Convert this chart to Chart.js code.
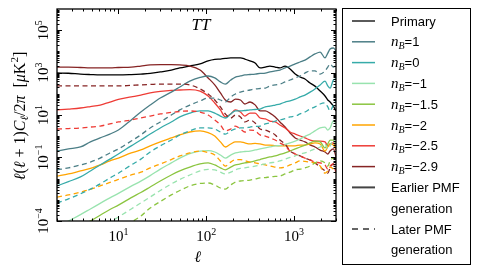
<!DOCTYPE html>
<html>
<head>
<meta charset="utf-8">
<script src="https://cdn.jsdelivr.net/npm/chart.js@4.4.0/dist/chart.umd.min.js"></script>
<style>
  html, body { margin: 0; padding: 0; background: #fff; overflow: hidden; }
</style>
</head>
<body>
<canvas id="chart" width="479" height="273"></canvas>
<script>
// multipole grid shared by every curve
const ells = [2, 2.7, 3.7, 4.8, 6.2, 8, 10, 14, 18, 23, 30, 40, 50, 65, 85, 105, 125, 145, 165, 190,
  215, 245, 275, 315, 360, 410, 470, 530, 610, 690, 790, 900, 1030, 1170, 1330, 1520, 1730, 1980, 2250, 2420,
  2570, 2800, 3000];

// primary CMB TT, muK^2
const primary = [955, 930, 850, 810, 780, 780, 780, 810, 850, 910, 1070, 1320, 1660, 2040, 2570, 3550, 4170, 4370, 4680, 4900,
  4900, 4900, 4370, 3550, 2820, 1660, 1820, 2040, 1820, 1660, 2040, 1480, 850, 620, 500, 320, 230, 135, 79, 51,
  41, 26, 15.5];

// earlier PMF generation (solid)
const nb1 = [0.2, 0.25, 0.31, 0.54, 0.83, 1.26, 1.95, 5.8, 13.8, 29.5, 63, 120, 209, 398, 589, 692, 562, 363, 288, 447,
  617, 692, 776, 813, 851, 912, 955, 1070, 1200, 1320, 1660, 2040, 2570, 3160, 3890, 5500, 7590, 9330, 4900, 8320,
  12900, 14500, 10500];
const nb0 = [0.0045, 0.0072, 0.012, 0.023, 0.044, 0.083, 0.145, 0.35, 0.66, 1.26, 2.45, 4.7, 8.1, 12.3, 15.5, 15.5, 12.3, 8.9, 7.2, 11.2,
  15.5, 15.5, 16.3, 17.4, 18.2, 19.1, 24, 26, 29.5, 33, 41, 46, 56, 71, 87, 120, 170, 263, 398, 234,
  186, 447, 501];
const nbm1 = [5.2e-5, 1e-4, 2.0e-4, 3.7e-4, 6.8e-4, 1.24e-3, 2.0e-3, 4.4e-3, 7.6e-3, 0.0138, 0.028, 0.055, 0.093, 0.152, 0.2, 0.21, 0.18, 0.129, 0.093, 0.129,
  0.162, 0.18, 0.19, 0.2, 0.224, 0.25, 0.28, 0.31, 0.35, 0.36, 0.41, 0.48, 0.59, 0.74, 0.98, 1.26, 1.78, 2.45, 2.7, 1.95,
  2.45, 5.2, 4.2];
const nbm15 = [1.26e-5, 2.6e-5, 5.4e-5, 1e-4, 1.86e-4, 3.5e-4, 5.6e-4, 1.26e-3, 2.2e-3, 4.0e-3, 7.7e-3, 0.0148, 0.023, 0.035, 0.049, 0.055, 0.044, 0.032, 0.026, 0.035,
  0.044, 0.049, 0.055, 0.06, 0.068, 0.079, 0.093, 0.105, 0.117, 0.138, 0.162, 0.2, 0.25, 0.31, 0.38, 0.48, 0.59, 0.54, 0.28, 0.43,
  0.66, 0.66, 0.31];
const nbm2 = [0.0132, 0.0166, 0.023, 0.030, 0.044, 0.068, 0.093, 0.162, 0.224, 0.35, 0.54, 0.83, 1.15, 1.58, 1.78, 1.48, 1.02, 0.54, 0.31, 0.43,
  0.54, 0.54, 0.48, 0.43, 0.46, 0.43, 0.38, 0.38, 0.36, 0.35, 0.35, 0.35, 0.35, 0.38, 0.38, 0.43, 0.48, 0.43, 0.2, 0.31,
  0.43, 0.38, 0.25];
const nbm25 = [17.4, 19.1, 21.4, 25, 29.5, 41, 54, 71, 87, 110, 129, 145, 151, 159, 135, 79, 37, 17.4, 8.1, 11.2,
  17.4, 13.8, 8.9, 12.3, 12.3, 7.2, 6.5, 5.2, 4.7, 3.4, 2.45, 1.58, 1.26, 1.02, 0.83, 0.66, 0.59, 0.59, 0.54, 0.35,
  0.43, 0.48, 0.22];
const nbm29 = [1820, 1820, 1740, 1660, 1660, 1660, 1740, 1820, 2040, 2290, 2400, 2400, 2290, 2040, 1320, 560, 263, 110, 51, 41,
  56, 51, 33, 41, 30, 15.5, 15.5, 12.3, 8.1, 4.7, 2.7, 1.41, 0.83, 0.66, 0.54, 0.39, 0.31, 0.22, 0.18, 0.145,
  0.2, 0.25, 0.105];

// later PMF generation (dashed)
const nb1Late = [0.026, 0.032, 0.044, 0.06, 0.093, 0.162, 0.25, 0.59, 1.15, 2.45, 4.7, 10, 17.4, 29.5, 46, 63, 63, 51, 41, 71,
  98, 120, 135, 151, 170, 178, 186, 234, 263, 288, 363, 447, 562, 692, 955, 1200, 1200, 851, 1200, 1820,
  2570, 1820, 2290];
const nb0Late = [0.0007, 0.0011, 0.0019, 0.0032, 0.0056, 0.0107, 0.018, 0.044, 0.083, 0.18, 0.35, 0.66, 1.15, 1.78, 2.45, 2.45, 2.19, 1.58, 1.26, 1.78,
  2.19, 2.45, 2.45, 2.7, 2.9, 3.0, 3.8, 4.2, 5.2, 5.8, 6.8, 8.1, 8.9, 11.2, 13.8, 19.1, 24, 33, 37, 24,
  15.5, 29.5, 46];
const nbm1Late = [2.5e-6, 4.8e-6, 1.15e-5, 2.2e-5, 4.5e-5, 8.9e-5, 1.55e-4, 3.7e-4, 7.1e-4, 1.35e-3, 2.75e-3, 5.6e-3, 9.1e-3, 0.0148, 0.023, 0.027, 0.026, 0.020, 0.0166, 0.020,
  0.026, 0.030, 0.032, 0.035, 0.039, 0.044, 0.049, 0.055, 0.06, 0.068, 0.083, 0.1, 0.117, 0.145, 0.162, 0.2, 0.25, 0.31, 0.43, 0.25,
  0.35, 0.66, 0.43];
const nbm15Late = [3.2e-7, 7.6e-7, 1.8e-6, 3.8e-6, 8.3e-6, 1.8e-5, 3.4e-5, 8.9e-5, 1.7e-4, 4.1e-4, 8.3e-4, 1.7e-3, 2.75e-3, 4.5e-3, 5.9e-3, 6.2e-3, 5.0e-3, 3.6e-3, 3.2e-3, 5.0e-3,
  6.9e-3, 7.7e-3, 8.1e-3, 8.5e-3, 9.5e-3, 0.0107, 0.0112, 0.012, 0.0126, 0.0132, 0.0166, 0.020, 0.026, 0.028, 0.032, 0.039, 0.055, 0.068, 0.055, 0.039,
  0.068, 0.093, 0.055];
const nbm2Late = [0.00135, 0.0017, 0.0023, 0.0031, 0.0045, 0.0066, 0.0091, 0.0148, 0.020, 0.032, 0.049, 0.079, 0.117, 0.162, 0.2, 0.17, 0.129, 0.068, 0.039, 0.06,
  0.079, 0.079, 0.071, 0.06, 0.055, 0.049, 0.044, 0.039, 0.035, 0.032, 0.035, 0.044, 0.055, 0.068, 0.065, 0.06, 0.055, 0.039, 0.018, 0.023,
  0.035, 0.028, 0.018];
const nbm25Late = [2.19, 2.3, 2.45, 2.7, 3.0, 3.8, 4.7, 5.8, 7.2, 8.9, 11.2, 13.2, 14.7, 15.5, 13.8, 10, 5.8, 3.4, 1.78, 2.19,
  3.0, 2.19, 1.58, 1.95, 1.78, 1.15, 1.02, 0.83, 0.66, 0.48, 0.35, 0.2, 0.145, 0.117, 0.093, 0.076, 0.06, 0.055, 0.044, 0.028,
  0.039, 0.049, 0.018];
const nbm29Late = [234, 234, 234, 234, 234, 234, 234, 250, 263, 275, 288, 288, 288, 263, 170, 98, 51, 24, 11.2, 7.2,
  10, 8.1, 4.7, 5.8, 4.2, 2.19, 1.95, 1.58, 1.15, 0.66, 0.43, 0.2, 0.145, 0.117, 0.093, 0.076, 0.055, 0.035, 0.023, 0.018,
  0.032, 0.049, 0.023];

const nBLabels = ['1', '0', '\u22121', '\u22121.5', '\u22122', '\u22122.5', '\u22122.9'];
const nBColors = ['#4b7e86', '#36aba9', '#98e3ae', '#8bc540', '#ffa400', '#ee3b35', '#862424'];
const earlySeries = [nb1, nb0, nbm1, nbm15, nbm2, nbm25, nbm29];
const lateSeries = [nb1Late, nb0Late, nbm1Late, nbm15Late, nbm2Late, nbm25Late, nbm29Late];

// axis ticks
const xTickExps = [1, 2, 3];
const yTickExps = [-4, -1, 1, 3, 5];

const toPoints = arr => ells.map((l, i) => ({ x: l, y: arr[i] }));

const datasets = [];
nBLabels.forEach((lab, i) => {
  datasets.push({ label: 'nB=' + lab + ' later', data: toPoints(lateSeries[i]), borderColor: nBColors[i], borderDash: [5, 3.5] });
});
nBLabels.forEach((lab, i) => {
  datasets.push({ label: 'nB=' + lab, data: toPoints(earlySeries[i]), borderColor: nBColors[i] });
});
datasets.push({ label: 'Primary', data: toPoints(primary), borderColor: '#000' });

const SERIF = '"Liberation Serif", "DejaVu Serif", serif';
const SANS = '"Liberation Sans", Arial, sans-serif';

function drawRuns(ctx, runs, x, y) {
  runs.forEach(r => {
    ctx.font = r[1];
    ctx.fillText(r[0], x, y + (r[2] || 0));
    x += ctx.measureText(r[0]).width;
  });
  return x;
}
function runsWidth(ctx, runs) {
  let w = 0;
  runs.forEach(r => { ctx.font = r[1]; w += ctx.measureText(r[0]).width; });
  return w;
}
function powRuns(e) {
  return [['10', '15px ' + SERIF], [String(e).replace('-', '\u2212'), '10px ' + SERIF, -6]];
}

const axesPlugin = {
  id: 'axesPlugin',
  afterDatasetsDraw(chart) {
    const ctx = chart.ctx;
    const a = chart.chartArea;
    const xs = chart.scales.x, ys = chart.scales.y;
    ctx.save();
    ctx.strokeStyle = '#000';
    ctx.fillStyle = '#000';
    ctx.lineWidth = 1;

    const line = (x1, y1, x2, y2) => { ctx.beginPath(); ctx.moveTo(x1, y1); ctx.lineTo(x2, y2); ctx.stroke(); };

    // x ticks, top and bottom, pointing inwards
    for (let e = 0; e <= 3; e++) {
      for (let k = 1; k <= 9; k++) {
        const v = k * Math.pow(10, e);
        if (v < xs.min || v > xs.max) continue;
        const px = Math.round(xs.getPixelForValue(v)) + 0.5;
        const len = (k === 1 && xTickExps.includes(e)) ? 5 : 2.5;
        line(px, a.bottom, px, a.bottom - len);
        line(px, a.top, px, a.top + len);
      }
    }
    // y ticks, left and right
    for (let e = -4; e <= 5; e++) {
      for (let k = 1; k <= 9; k++) {
        const v = k * Math.pow(10, e);
        if (v < ys.min || v > ys.max) continue;
        const py = Math.round(ys.getPixelForValue(v)) + 0.5;
        const len = (k === 1 && yTickExps.includes(e)) ? 5 : 2.5;
        line(a.left, py, a.left + len, py);
        line(a.right, py, a.right - len, py);
      }
    }
    // frame
    ctx.lineWidth = 1.3;
    ctx.strokeRect(a.left, a.top, a.right - a.left, a.bottom - a.top);

    // x tick labels
    ctx.textBaseline = 'alphabetic';
    xTickExps.forEach(e => {
      const runs = powRuns(e);
      const w = runsWidth(ctx, runs);
      drawRuns(ctx, runs, xs.getPixelForValue(Math.pow(10, e)) - w / 2, 241);
    });
    // y tick labels, rotated
    yTickExps.forEach(e => {
      const runs = powRuns(e);
      const w = runsWidth(ctx, runs);
      ctx.save();
      ctx.translate(48, ys.getPixelForValue(Math.pow(10, e)));
      ctx.rotate(-Math.PI / 2);
      drawRuns(ctx, runs, -w / 2, 0);
      ctx.restore();
    });

    // axis titles
    const it = 'italic 16px ' + SERIF, up = '16px ' + SERIF;
    const ell = [['\u2113', it]];
    const xw = runsWidth(ctx, ell);
    drawRuns(ctx, ell, (a.left + a.right) / 2 - xw / 2 + 1, 262);

    const ylab = [['\u2113', it], ['(', up], ['\u2113', it], [' + 1)', up], ['C', it], ['\u2113', 'italic 11px ' + SERIF, 3],
      ['/2', up], ['\u03c0', it], ['  [', up], ['\u03bc', it], ['K', up], ['2', '11px ' + SERIF, -7], [']', up]];
    const yw = runsWidth(ctx, ylab);
    ctx.save();
    ctx.translate(25, 116);
    ctx.rotate(-Math.PI / 2);
    drawRuns(ctx, ylab, -yw / 2, 0);
    ctx.restore();

    // panel title
    const title = [['TT', 'italic 17px ' + SERIF]];
    drawRuns(ctx, title, 201 - runsWidth(ctx, title) / 2, 30);

    // legend
    ctx.lineWidth = 1;
    ctx.strokeStyle = '#000';
    ctx.strokeRect(342.5, 8.5, 128, 256);
    const rowY = i => 21 + i * 20.8;
    const sx1 = 352, sx2 = 375, tx = 391;
    const sans = '13px ' + SANS;
    const sample = (i, color, dash, width) => {
      ctx.save();
      ctx.strokeStyle = color;
      ctx.lineWidth = width;
      ctx.setLineDash(dash);
      line(sx1, rowY(i), sx2, rowY(i));
      ctx.restore();
    };
    sample(0, '#000', [], 1.3);
    drawRuns(ctx, [['Primary', sans]], tx, rowY(0) + 4.5);
    nBLabels.forEach((lab, i) => {
      sample(i + 1, nBColors[i], [], 1.5);
      drawRuns(ctx, [['n', 'italic 15px ' + SERIF], ['B', 'italic 10px ' + SERIF, 3], ['=' + lab, sans]], tx, rowY(i + 1) + 4.5);
    });
    sample(8, '#444', [], 2);
    drawRuns(ctx, [['Earlier PMF', sans]], tx, rowY(8) + 4.5);
    drawRuns(ctx, [['generation', sans]], tx, rowY(9) + 4.5);
    sample(10, '#333', [6, 5], 1.5);
    drawRuns(ctx, [['Later PMF', sans]], tx, rowY(10) + 4.5);
    drawRuns(ctx, [['generation', sans]], tx, rowY(11) + 4.5);

    ctx.restore();
  }
};

new Chart(document.getElementById('chart').getContext('2d'), {
  type: 'line',
  data: { datasets: datasets },
  options: {
    responsive: false,
    animation: false,
    layout: { padding: { left: 57, top: 9, right: 143, bottom: 52 } },
    plugins: { legend: { display: false }, tooltip: { enabled: false } },
    elements: {
      point: { radius: 0 },
      line: { borderWidth: 1.3, cubicInterpolationMode: 'monotone', fill: false }
    },
    scales: {
      x: { type: 'logarithmic', min: 2, max: 3000, display: false },
      y: { type: 'logarithmic', min: 1e-4, max: 1e6, display: false }
    }
  },
  plugins: [axesPlugin]
});
</script>
</body>
</html>
